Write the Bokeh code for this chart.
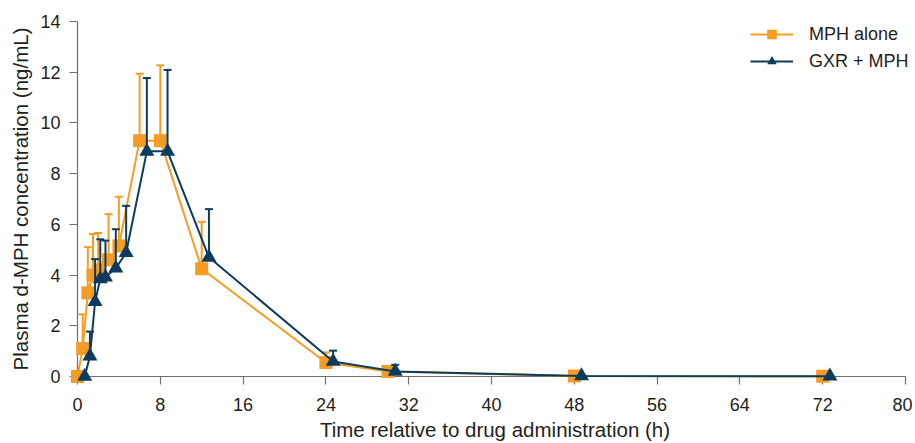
from bokeh.plotting import figure
from bokeh.models import Legend, LegendItem, FixedTicker, ColumnDataSource
from bokeh.transform import dodge
from bokeh.embed import file_html
from bokeh.resources import INLINE

# ---- data ----
time_h = [0, 0.5, 1, 1.5, 2, 3, 4, 6, 8, 12, 24, 30, 48, 72]
mph_alone = [0, 1.1, 3.3, 4.0, 4.2, 4.6, 5.15, 9.3, 9.3, 4.25, 0.55, 0.2, 0.02, 0.01]
mph_alone_upper = [0, 2.45, 5.1, 5.62, 5.66, 6.4, 7.09, 11.94, 12.27, 6.1, 0.95, 0.35, 0.02, 0.01]
gxr_mph = [0, 0.8, 2.95, 3.85, 3.92, 4.27, 4.88, 8.88, 8.88, 4.7, 0.59, 0.2, 0.02, 0.01]
gxr_mph_upper = [0, 1.77, 4.63, 5.41, 5.36, 5.81, 6.73, 11.77, 12.09, 6.6, 1.02, 0.46, 0.02, 0.01]
x_ticks = [0, 8, 16, 24, 32, 40, 48, 56, 64, 72, 80]
y_ticks = [0, 2, 4, 6, 8, 10, 12, 14]
series_names = ["MPH alone", "GXR + MPH"]

ORANGE = "#F59C24"
NAVY = "#0C3B5E"
TEXT = "#231F20"
AXIS = "#6f6f6f"
FONT = "Liberation Sans"

# x range runs a little past 80 so the legend text is not clipped; the axis line stops at 80
p = figure(width=912, height=443, x_range=(0, 80.68), y_range=(0, 14),
           output_backend="svg", toolbar_location=None,
           min_border_left=77, min_border_right=0, min_border_top=21,
           min_border_bottom=66)
p.outline_line_color = None
p.grid.visible = False
p.background_fill_color = "white"
p.border_fill_color = "white"

src_a = ColumnDataSource(dict(t=time_h, y=mph_alone, up=mph_alone_upper))
src_b = ColumnDataSource(dict(t=time_h, y=gxr_mph, up=gxr_mph_upper))

# orange series
la = p.line("t", "y", source=src_a, line_color=ORANGE, line_width=2)
ea = p.segment(x0="t", y0="y", x1="t", y1="up", source=src_a, line_color=ORANGE, line_width=2)
ca = p.scatter(x="t", y="up", source=src_a, marker="dash", size=8, line_color=ORANGE, line_width=2)
ma = p.scatter(x="t", y="y", source=src_a, marker="square", size=13,
               fill_color=ORANGE, line_color=ORANGE, line_width=0)
# navy series (slightly offset in time as in the original)
xb = dodge("t", 0.7)
lb = p.line(xb, "y", source=src_b, line_color=NAVY, line_width=2)
eb = p.segment(x0=xb, y0="y", x1=xb, y1="up", source=src_b, line_color=NAVY, line_width=2)
cb = p.scatter(x=xb, y="up", source=src_b, marker="dash", size=8, line_color=NAVY, line_width=2)
mb = p.scatter(x=xb, y="y", source=src_b, marker="triangle", size=15,
               fill_color=NAVY, line_color=NAVY, line_width=0)
for r in [la, ea, ca, ma, lb, eb, cb, mb]:
    r.level = "overlay"

# axes
p.xaxis.ticker = FixedTicker(ticks=x_ticks)
p.yaxis.ticker = FixedTicker(ticks=y_ticks)
p.xaxis.bounds = (0, 80)
for ax in (p.xaxis[0], p.yaxis[0]):
    ax.axis_line_color = AXIS
    ax.axis_line_width = 1.2
    ax.major_tick_line_color = AXIS
    ax.major_tick_line_width = 1.2
    ax.major_tick_out = 8
    ax.major_tick_in = 0
    ax.minor_tick_line_color = None
    ax.major_label_text_font = FONT
    ax.major_label_text_font_size = "18px"
    ax.major_label_text_color = TEXT
    ax.axis_label_text_font = FONT
    ax.axis_label_text_font_size = "20.5px"
    ax.axis_label_text_font_style = "normal"
    ax.axis_label_text_color = TEXT
p.xaxis.axis_label = "Time relative to drug administration (h)"
p.yaxis.axis_label = "Plasma d-MPH concentration (ng/mL)"
p.xaxis.major_label_standoff = 13
p.yaxis.major_label_standoff = 9
p.xaxis.axis_label_standoff = 4
p.yaxis.axis_label_standoff = 5

legend = Legend(items=[LegendItem(label=series_names[0], renderers=[la, ma]),
                       LegendItem(label=series_names[1], renderers=[lb, mb])],
                location=(673, 303))
legend.glyph_width = 43
legend.glyph_height = 24
legend.label_height = 24
legend.spacing = 3
legend.padding = 0
legend.margin = 0
legend.label_standoff = 16
legend.label_text_font = FONT
legend.label_text_font_size = "18px"
legend.label_text_color = TEXT
legend.border_line_color = None
legend.background_fill_alpha = 0
p.add_layout(legend, "center")

open("out.html", "w").write(file_html(p, INLINE))
